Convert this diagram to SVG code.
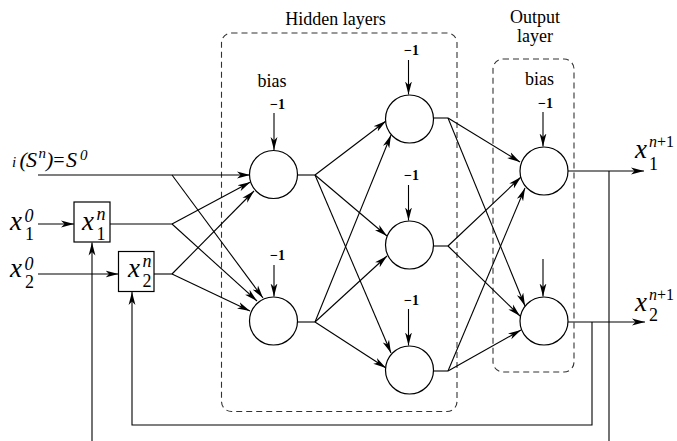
<svg xmlns="http://www.w3.org/2000/svg" width="677" height="441" viewBox="0 0 677 441">
<style>
.ln{stroke:#000;stroke-width:1.1;fill:none}
.ar{stroke:#000;stroke-width:1.1;fill:none;marker-end:url(#ah)}
.nd{stroke:#000;stroke-width:1.2;fill:#fff}
.bx{stroke:#000;stroke-width:1.2;fill:#fff}
.dash{stroke:#333;stroke-width:1.1;fill:none;stroke-dasharray:6,4}
.t{font-family:"Liberation Serif","Times New Roman",serif;font-size:18px;fill:#000}
.b{font-family:"Liberation Serif","Times New Roman",serif;font-size:14px;font-weight:bold;fill:#000}
.mx{font-family:"Liberation Serif","Times New Roman",serif;font-size:27px;font-style:italic;fill:#000}
.sc{font-family:"Liberation Serif","Times New Roman",serif;font-size:18px;fill:#000}
.si{font-family:"Liberation Serif","Times New Roman",serif;font-size:18px;font-style:italic;fill:#000}
.eq{font-family:"Liberation Serif","Times New Roman",serif;font-size:22px;font-style:italic;fill:#000}
</style>
<defs>
<marker id="ah" markerUnits="userSpaceOnUse" markerWidth="14" markerHeight="8" refX="13" refY="4" orient="auto">
<path d="M0,0.6 L13,4 L0,7.4 L3.5,4 z" fill="#000"/>
</marker>
</defs>

<g id="groups">
<rect class="dash" x="221.5" y="33" width="235.5" height="378.5" rx="10"/>
<rect class="dash" x="493" y="59" width="81" height="313" rx="10"/>
<text class="t" x="335.5" y="25" text-anchor="middle">Hidden layers</text>
<text class="t" x="535" y="23" text-anchor="middle">Output</text>
<text class="t" x="535" y="42" text-anchor="middle">layer</text>
</g>

<g id="connectors">
<line class="ar" x1="38" y1="175" x2="250" y2="175"/>
<line class="ar" x1="172" y1="175" x2="263" y2="298"/>
<line class="ar" x1="38" y1="224" x2="74" y2="224"/>
<line class="ln" x1="110" y1="224" x2="172" y2="224"/>
<line class="ar" x1="172" y1="224" x2="250.5" y2="182"/>
<line class="ar" x1="172" y1="224" x2="257" y2="301"/>
<line class="ar" x1="38" y1="274" x2="118.5" y2="274"/>
<line class="ln" x1="154" y1="274" x2="172" y2="274"/>
<line class="ar" x1="172" y1="274" x2="254" y2="191"/>
<line class="ar" x1="172" y1="274" x2="250" y2="311"/>
<line class="ln" x1="297.5" y1="175" x2="315" y2="175"/>
<line class="ln" x1="297.5" y1="322" x2="315" y2="322"/>
<line class="ar" x1="315" y1="175" x2="386" y2="121"/>
<line class="ar" x1="315" y1="175" x2="387" y2="236"/>
<line class="ar" x1="315" y1="175" x2="391" y2="353"/>
<line class="ar" x1="315" y1="322" x2="391" y2="135"/>
<line class="ar" x1="315" y1="322" x2="387" y2="256"/>
<line class="ar" x1="315" y1="322" x2="386" y2="368"/>
<line class="ln" x1="433.5" y1="118" x2="448" y2="118"/>
<line class="ln" x1="433.5" y1="246" x2="448" y2="246"/>
<line class="ln" x1="433.5" y1="371" x2="448" y2="371"/>
<line class="ar" x1="448" y1="118" x2="520" y2="162"/>
<line class="ar" x1="448" y1="118" x2="525" y2="306"/>
<line class="ar" x1="448" y1="246" x2="521" y2="177"/>
<line class="ar" x1="448" y1="246" x2="520" y2="316"/>
<line class="ar" x1="448" y1="371" x2="525" y2="188"/>
<line class="ar" x1="448" y1="371" x2="521" y2="330"/>
<line class="ar" x1="568" y1="171" x2="644" y2="171"/>
<line class="ar" x1="568" y1="322" x2="645" y2="322"/>
<line class="ar" x1="274" y1="113" x2="274" y2="150"/>
<line class="ar" x1="274" y1="265" x2="274" y2="296.5"/>
<line class="ar" x1="408.5" y1="60" x2="408.5" y2="94.5"/>
<line class="ar" x1="408.5" y1="185" x2="408.5" y2="220.5"/>
<line class="ar" x1="408.5" y1="309" x2="408.5" y2="345.5"/>
<line class="ar" x1="543" y1="112" x2="543" y2="146.5"/>
<line class="ar" x1="543" y1="259" x2="543" y2="296.5"/>
<line class="ln" x1="609" y1="171" x2="609" y2="441"/>
<path class="ar" d="M592,322 V425 H132 V292"/>
<line class="ar" x1="92" y1="441" x2="92" y2="242.5"/>
</g>

<g id="node-h1a"><circle class="nd" cx="273.5" cy="174.5" r="24"/></g>
<g id="node-h1b"><circle class="nd" cx="273.5" cy="321" r="24"/></g>
<g id="node-h2a"><circle class="nd" cx="409.5" cy="119" r="24"/></g>
<g id="node-h2b"><circle class="nd" cx="409.5" cy="245" r="24"/></g>
<g id="node-h2c"><circle class="nd" cx="409.5" cy="370" r="24"/></g>
<g id="node-o1"><circle class="nd" cx="544" cy="171" r="24"/></g>
<g id="node-o2"><circle class="nd" cx="544" cy="321" r="24"/></g>

<g id="bias-labels">
<text class="t" x="272" y="87" text-anchor="middle">bias</text>
<text class="b" x="270" y="109">−1</text>
<text class="b" x="270" y="260">−1</text>
<text class="b" x="404" y="55">−1</text>
<text class="b" x="404" y="180">−1</text>
<text class="b" x="404" y="305">−1</text>
<text class="t" x="539.5" y="85" text-anchor="middle">bias</text>
<text class="b" x="538" y="108">−1</text>
</g>

<g id="node-box1">
<rect class="bx" x="74" y="202" width="36" height="40"/>
<text class="mx" x="82" y="230">x</text>
<text class="si" x="96.5" y="220">n</text>
<text class="sc" x="96.5" y="240">1</text>
</g>
<g id="node-box2">
<rect class="bx" x="118.5" y="251.5" width="35.5" height="40"/>
<text class="mx" x="128" y="277">x</text>
<text class="si" x="142.5" y="267">n</text>
<text class="sc" x="142.5" y="287">2</text>
</g>

<g id="input-labels">
<text class="eq" x="12" y="167" style="font-size:15px">i</text>
<text class="eq" x="19.5" y="167">(</text>
<text class="eq" x="26" y="167">S</text>
<text class="si" x="38.5" y="158" style="font-size:15px">n</text>
<text class="eq" x="46" y="167">)</text>
<text class="eq" x="52" y="167" style="font-size:20px">=</text>
<text class="eq" x="66" y="167">S</text>
<text class="si" x="80" y="160" style="font-size:15px">0</text>

<text class="mx" x="10" y="230">x</text>
<text class="si" x="24.5" y="222">0</text>
<text class="sc" x="25" y="240">1</text>
<text class="mx" x="10" y="277">x</text>
<text class="si" x="24.5" y="270">0</text>
<text class="sc" x="25" y="288">2</text>
</g>

<g id="output-labels">
<text class="mx" x="635" y="158">x</text>
<text class="sc" x="649" y="147" style="font-size:16px"><tspan font-style="italic">n</tspan>+1</text>
<text class="sc" x="649" y="170">1</text>
<text class="mx" x="635" y="311">x</text>
<text class="sc" x="649" y="300" style="font-size:16px"><tspan font-style="italic">n</tspan>+1</text>
<text class="sc" x="649" y="321">2</text>
</g>
</svg>
